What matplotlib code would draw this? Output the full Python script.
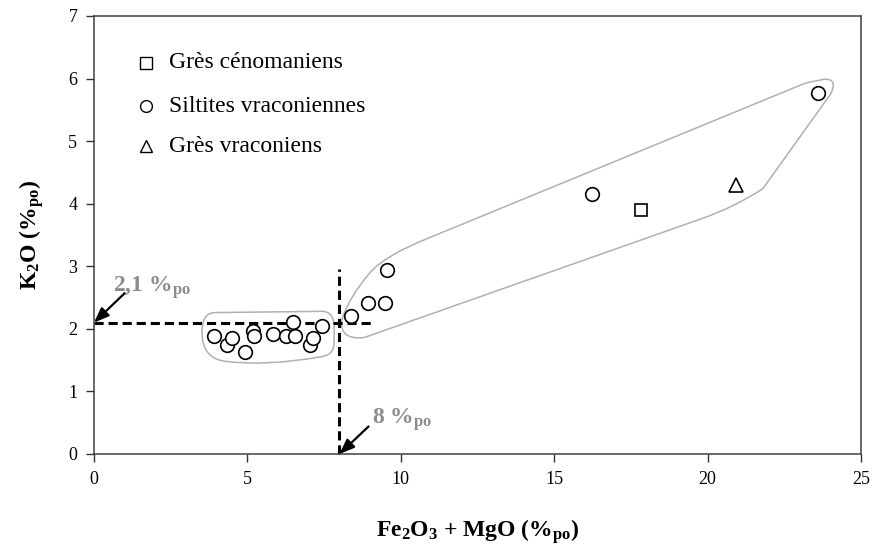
import matplotlib
matplotlib.use("Agg")
import matplotlib.pyplot as plt
from matplotlib.path import Path
from matplotlib.patches import PathPatch

plt.rcParams["font.family"] = ["Liberation Serif", "DejaVu Serif"]
plt.rcParams["mathtext.fontset"] = "custom"
plt.rcParams["mathtext.rm"] = "Liberation Serif"
plt.rcParams["mathtext.bf"] = "Liberation Serif:bold"
plt.rcParams["mathtext.it"] = "Liberation Serif:italic"

# Siltites vraconiennes
silt_x = [3.91, 4.32, 4.50, 4.92, 5.17, 5.22, 5.84, 6.25, 6.50, 6.56, 7.04, 7.14, 7.44,
          8.37, 8.93, 9.48, 9.55, 16.24, 23.59]
silt_y = [1.88, 1.74, 1.86, 1.63, 1.97, 1.88, 1.92, 1.89, 2.11, 1.89, 1.74, 1.85, 2.05,
          2.20, 2.41, 2.41, 2.94, 4.16, 5.77]
# Grès cénomaniens
ceno_x = [17.84]
ceno_y = [3.90]
# Grès vraconiens
vrac_x = [20.93]
vrac_y = [4.30]

legend_labels = ["Grès cénomaniens", "Siltites vraconiennes", "Grès vraconiens"]
legend_markers = ["s", "o", "^"]

# threshold values
k2o_limit = 2.1
fe_mg_limit = 8.0

xticks = [0, 5, 10, 15, 20, 25]
yticks = [0, 1, 2, 3, 4, 5, 6, 7]

# outlines of the two groups (Bezier paths)
left_env = [(3.52, 1.95), (3.52, 2.26), (3.95, 2.26), (7.35, 2.28),
            (7.85, 2.30), (7.83, 2.00), (7.82, 1.75), (7.80, 1.57), (7.35, 1.55),
            (5.60, 1.40), (4.30, 1.48), (3.52, 1.52), (3.52, 1.95)]
left_codes = [Path.MOVETO, Path.CURVE3, Path.CURVE3, Path.LINETO,
              Path.CURVE3, Path.CURVE3, Path.LINETO, Path.CURVE3, Path.CURVE3,
              Path.CURVE3, Path.CURVE3, Path.CURVE3, Path.CURVE3]

right_env = [(8.80, 1.86), (19.80, 3.76), (20.90, 3.95), (21.80, 4.24),
             (24.02, 5.76), (24.25, 6.00), (23.80, 5.99), (23.20, 5.93),
             (10.90, 3.45), (9.50, 3.18), (9.00, 2.90), (8.30, 2.50), (8.08, 2.15),
             (7.98, 1.82), (8.80, 1.86)]
right_codes = [Path.MOVETO, Path.LINETO, Path.CURVE3, Path.CURVE3,
               Path.LINETO, Path.CURVE3, Path.CURVE3, Path.LINETO,
               Path.LINETO, Path.CURVE3, Path.CURVE3, Path.CURVE3, Path.CURVE3,
               Path.CURVE3, Path.CURVE3]

W, H = 874, 549
fig = plt.figure(figsize=(W / 100, H / 100), dpi=100)
ax = fig.add_axes([94 / W, 1 - 454 / H, (861 - 94) / W, (454 - 16) / H])

env_color = "#b0b0b0"
for verts, codes in ((left_env, left_codes), (right_env, right_codes)):
    ax.add_patch(PathPatch(Path(verts, codes), facecolor="none", edgecolor=env_color,
                           lw=1.1, zorder=1))

# threshold dashed lines
ax.plot([0, 9.1], [k2o_limit, k2o_limit], color="black", lw=2.2,
        dashes=(3.0, 1.6), zorder=2, clip_on=False)
ax.plot([fe_mg_limit, fe_mg_limit], [0, 2.95], color="black", lw=2.2,
        dashes=(3.0, 1.6), zorder=2, clip_on=False)

mk = dict(linestyle="none", markerfacecolor="white", markeredgecolor="black",
          markeredgewidth=1.2, zorder=4, clip_on=False)
ax.plot(silt_x, silt_y, marker="o", markersize=9.8, **mk)
ax.plot(ceno_x, ceno_y, marker="s", markersize=9.2, **mk)
ax.plot(vrac_x, vrac_y, marker="^", markersize=10, **mk)

# legend drawn as markers + text
leg_y = [6.25, 5.56, 4.92]
for m, lab, yy in zip(legend_markers, legend_labels, leg_y):
    ax.plot([1.68], [yy], marker=m, markersize=8.5 if m != "^" else 9,
            linestyle="none", markerfacecolor="white", markeredgecolor="black",
            markeredgewidth=1.0)
    ax.text(2.45, yy, lab, fontsize=17, va="center", ha="left")

gray = "#8c8c8c"
arrow = dict(arrowstyle="-|>,head_length=0.9,head_width=0.35", color="black",
             lw=1.6, shrinkA=0, shrinkB=0)
ax.annotate("", xy=(0, k2o_limit), xytext=(1.0, 2.57), arrowprops=arrow,
            annotation_clip=False, zorder=5)
ax.text(0.62, 2.60, r"2,1 %$_{\mathbf{po}}$", color=gray, fontsize=17,
        fontweight="bold", ha="left", va="baseline")
ax.annotate("", xy=(fe_mg_limit, 0), xytext=(8.95, 0.44), arrowprops=arrow,
            annotation_clip=False, zorder=5)
ax.text(9.05, 0.48, r"8 %$_{\mathbf{po}}$", color=gray, fontsize=17,
        fontweight="bold", ha="left", va="baseline")

ax.set_xlim(0, 25)
ax.set_ylim(0, 7)
ax.set_xticks(xticks)
ax.set_yticks(yticks)
ax.tick_params(direction="out", length=6, width=1, labelsize=13, pad=6,
               color="#333333")
for s in ax.spines.values():
    s.set_color("#404040")
    s.set_linewidth(1.1)

ax.set_xlabel(r"Fe$_{\mathbf{2}}$O$_{\mathbf{3}}$ + MgO (%$_{\mathbf{po}}$)",
              fontsize=17, fontweight="bold", labelpad=21)
ax.set_ylabel(r"K$_{\mathbf{2}}$O (%$_{\mathbf{po}}$)", fontsize=17,
              fontweight="bold", labelpad=16)

fig.savefig("out.png", dpi=100)
